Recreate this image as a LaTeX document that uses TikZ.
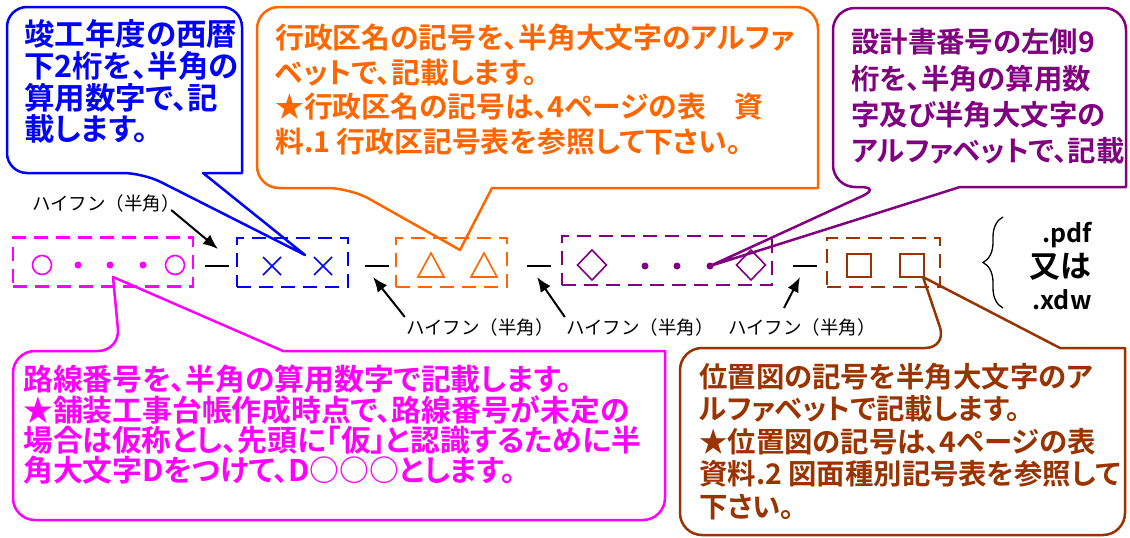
\documentclass[tikz,border=0pt]{standalone}
\usepackage{fontspec}
\newfontfamily\callfont[RawFeature=+palt]{Noto Sans CJK JP Bold}
\newfontfamily\labfont{Noto Sans CJK JP}
\usetikzlibrary{arrows.meta,decorations.pathreplacing,calc}

\definecolor{cblue}{RGB}{0,0,255}
\definecolor{corange}{RGB}{255,102,0}
\definecolor{cpurple}{RGB}{128,0,128}
\definecolor{cmagenta}{RGB}{255,0,255}
\definecolor{cbrown}{RGB}{153,51,0}

\begin{document}
\begin{tikzpicture}[x=1pt,y=-1pt,
  call/.style={line width=2.5pt, line join=round},
  dbox/.style={draw=#1, line width=2.2pt, dash pattern=on 14pt off 8pt, minimum height=49pt, inner sep=0pt},
  sym/.style={line width=1.6pt},
  hyph/.style={fill=black, minimum width=24pt, minimum height=1.8pt, inner sep=0pt},
  arr/.style={-{Latex[length=15pt,width=12pt]}, line width=2pt},
  lab/.style={font=\labfont\fontsize{18.5}{18.5}\selectfont, inner sep=1pt},
  ctext/.style={anchor=north west, inner sep=0pt, align=left},
  ext/.style={font=\callfont\fontsize{25}{25}\selectfont, inner sep=0pt}]

\useasboundingbox (0,0) rectangle (1130,538);

% Dashed boxes of the file name
\node[dbox=cmagenta, minimum width=180pt] (rosen) at (103,262) {};
\node[dbox=cblue, minimum width=111pt] (nendo) at (292.5,262.5) {};
\node[dbox=corange, minimum width=111pt] (gyosei) at (451.5,262.5) {};
\node[dbox=cpurple, minimum width=210pt] (sekkei) at (667,260.5) {};
\node[dbox=cbrown, minimum width=113pt] (ichizu) at (883.5,262.5) {};

% Symbols inside the boxes
\foreach \x in {42,175} \draw[cmagenta, sym] (\x,265) circle[radius=9.5pt];
\foreach \x in {78,110,143} \fill[cmagenta] (\x,265) circle[radius=3.5pt];
\foreach \x in {272,323} \draw[cblue, sym] (\x,266) +(-9,-9) -- +(9,9) +(-9,9) -- +(9,-9);
\foreach \x in {431,484} \draw[corange, sym] (\x,265) +(0,-12) -- +(13,12) -- +(-13,12) -- cycle;
\foreach \x in {592,751} \draw[cpurple, sym] (\x,265) +(0,-15) -- +(14.5,0) -- +(0,15) -- +(-14.5,0) -- cycle;
\foreach \x in {645,677,710} \fill[cpurple] (\x,266) circle[radius=3.5pt];
\foreach \x in {859,912} \draw[cbrown, sym] (\x,265.5) +(-12,-11.5) rectangle +(12,11.5);

% Hyphens between the boxes
\node[hyph] (h1) at (217,266) {};
\node[hyph] (h2) at (376.5,266) {};
\node[hyph] (h3) at (538.5,266) {};
\node[hyph] (h4) at (805,266) {};

% Hyphen labels and arrows
\node[lab] (lab1) at (106,203) {ハイフン（半角）};
\node[lab] (lab2) at (480,327) {ハイフン（半角）};
\node[lab] (lab3) at (640,327) {ハイフン（半角）};
\node[lab] (lab4) at (802,327) {ハイフン（半角）};
\coordinate (a1) at (218,249);
\coordinate (a2) at (373,277);
\coordinate (a3) at (537,277);
\coordinate (a4) at (800,277);
\draw[arr] ($(lab1.east)+(-10,7)$) -- (a1);
\draw[arr] (lab2.north west) -- (a2);
\draw[arr] (lab3.north west) -- (a3);
\draw[arr] ($(lab4.north)+(-18,-9)$) -- (a4);

% Extension
\draw[line width=1.3pt, decorate, decoration={brace, amplitude=20pt}] (1003,308) -- (1003,217);
\node[ext] (pdf) at (1067,235) {.pdf};
\node[ext, font=\callfont\fontsize{31}{31}\selectfont] (mata) at (1060,267) {又は};
\node[ext] (xdw) at (1062,300) {.xdw};

% Tips of the callouts
\coordinate (nendoTip) at (305,255);
\coordinate (gyoseiTip) at (460,250);
\coordinate (sekkeiTip) at (710,266);
\coordinate (rosenTip) at (113,277);
\coordinate (ichizuTip) at (923,277);

% Callouts
\draw[cblue, call] (203,173) -- (242,173) [rounded corners=20pt] -- (242,7) -- (7,7) -- (7,173) -- (143,173) [sharp corners] -- (nendoTip) -- cycle;
\draw[corange, call] (492,188) -- (818,188) [rounded corners=22pt] -- (818,7) -- (257,7) -- (257,188) -- (350,188) [sharp corners] -- (gyoseiTip) -- cycle;
\draw[cpurple, call] (960,187) -- (1126,187) [rounded corners=22pt] -- (1126,8) -- (833,8) -- (833,187) -- (882,187) [sharp corners] -- (sekkeiTip) -- cycle;
\draw[cmagenta, call] (283,351) -- (665,351) [rounded corners=22pt] -- (665,520) -- (13,520) -- (13,351) -- (120,351) [sharp corners] -- (rosenTip) -- cycle;
\draw[cbrown, call] (1060,348) -- (1125,348) [rounded corners=22pt] -- (1125,535) -- (680,535) -- (680,348) -- (947,348) [sharp corners] -- (ichizuTip) -- cycle;

% Callout texts
\node[ctext, text=cblue, font=\callfont\fontsize{30.5}{31.7}\selectfont] (nendoText) at (24,19.5)
  {竣工年度の西暦\\下2桁を、半角の\\算用数字で、記\\載します。};
\node[ctext, text=corange, font=\callfont\fontsize{28.8}{34.7}\selectfont] (gyoseiText) at (275,23.5)
  {行政区名の記号を、半角大文字のアルファ\\ベットで、記載します。\\★行政区名の記号は、4ページの表　資\\料.1 行政区記号表を参照して下さい。};
\node[ctext, text=cpurple, font=\callfont\fontsize{28.4}{36.3}\selectfont] (sekkeiText) at (851,28.5)
  {設計書番号の左側9\\桁を、半角の算用数\\字及び半角大文字の\\アルファベットで、記載};
\node[ctext, text=cmagenta, font=\callfont\fontsize{29.8}{30.3}\selectfont] (rosenText) at (23,365)
  {路線番号を、半角の算用数字で記載します。\\★舗装工事台帳作成時点で、路線番号が未定の\\場合は仮称とし、先頭に「仮」と認識するために半\\角大文字Dをつけて、D○○○とします。};
\node[ctext, text=cbrown, font=\callfont\fontsize{28.4}{32.5}\selectfont] (ichizuText) at (699,363)
  {位置図の記号を半角大文字のア\\ルファベットで記載します。\\★位置図の記号は、4ページの表\\資料.2 図面種別記号表を参照して\\下さい。};

\end{tikzpicture}
\end{document}
